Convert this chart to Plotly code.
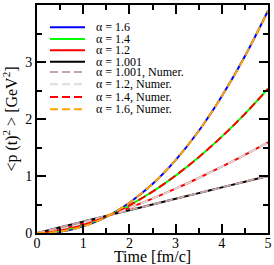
import plotly.graph_objects as go

# time grid [fm/c]
time = [0, 0.25, 0.5, 0.75, 1.0, 1.25, 1.5, 1.75, 2.0, 2.5, 3.0, 3.5, 4.0, 4.5, 5.0]

# <p(t)^2> [GeV^2]
p2_a1001 = [0, 0.05, 0.10, 0.15, 0.20, 0.25, 0.30, 0.35, 0.40, 0.50, 0.60, 0.70, 0.80, 0.90, 1.00]
p2_a12 = [0, 0.024, 0.063, 0.112, 0.167, 0.228, 0.295, 0.366, 0.441, 0.602, 0.777, 0.965, 1.163, 1.371, 1.59]
p2_a14 = [0, 0.011, 0.040, 0.083, 0.139, 0.208, 0.289, 0.382, 0.485, 0.725, 1.007, 1.329, 1.691, 2.09, 2.53]
p2_a16 = [0, 0.006, 0.025, 0.062, 0.116, 0.190, 0.284, 0.399, 0.53, 0.86, 1.28, 1.79, 2.40, 3.10, 3.90]

names = ["α = 1.6", "α = 1.4", "α = 1.2", "α = 1.001",
         "α = 1.001, Numer.", "α = 1.2, Numer.", "α = 1.4, Numer.", "α = 1.6, Numer."]
series = [p2_a16, p2_a14, p2_a12, p2_a1001, p2_a1001, p2_a12, p2_a14, p2_a16]
colors = ["#0000ff", "#00ff00", "#ff0000", "#000000",
          "#c4a4a4", "#dcdcdc", "#ff0000", "#ffa500"]
dashes = ["solid"] * 4 + ["8px,4px"] * 4

fig = go.Figure()
for n, s, c, d in zip(names, series, colors, dashes):
    fig.add_trace(go.Scatter(x=time, y=s, mode="lines", name=n,
                             line=dict(color=c, width=2, dash=d, shape="spline"),
                             showlegend=False))

# manual legend (compact, like the original)
L, T, W, H = 37.0, 5.0, 231.0, 228.0
rows = [27.3, 39.0, 50.3, 61.7, 72.0, 84.3, 97.0, 109.3]
for py, n, c, d in zip(rows, names, colors, dashes):
    yp = (T + H - py) / H
    fig.add_shape(type="line", xref="paper", yref="paper",
                  x0=(50 - L) / W, x1=(85 - L) / W, y0=yp, y1=yp,
                  line=dict(color=c, width=2, dash=d))
    fig.add_annotation(xref="paper", yref="paper", x=(95 - L) / W, y=yp,
                       text=n, showarrow=False, xanchor="left", yanchor="middle",
                       borderpad=0,
                       font=dict(family="Liberation Serif", size=12, color="black"))

axis_common = dict(showline=True, linewidth=2, linecolor="black", mirror="allticks",
                   ticks="inside", ticklen=9, tickwidth=1.5, tickcolor="black",
                   showgrid=False, zeroline=False,
                   tickfont=dict(family="Liberation Serif", size=14, color="black"))

fig.update_xaxes(range=[0, 5], dtick=1, tick0=0, ticklabelstandoff=-4,
                 minor=dict(dtick=0.5, ticks="inside", ticklen=5, tickwidth=1.5, tickcolor="black"),
                 title=dict(text="Time [fm/c]", standoff=12,
                            font=dict(family="Liberation Serif", size=16, color="black")),
                 **axis_common)
fig.update_yaxes(range=[0, 4], dtick=1, tick0=0,
                 minor=dict(dtick=0.5, ticks="inside", ticklen=5, tickwidth=1.5, tickcolor="black"),
                 title=dict(text="&lt;p (t)<sup>2</sup> &gt; [GeV<sup>2</sup>]", standoff=4,
                            font=dict(family="Liberation Serif", size=16, color="black")),
                 **axis_common)

fig.update_layout(width=274, height=265, margin=dict(l=37, r=6, t=5, b=32, autoexpand=False),
                  paper_bgcolor="white", plot_bgcolor="white")
fig.write_html("out.html", config={"displayModeBar": False},
               post_script="document.body.style.margin='0';document.body.style.overflow='hidden';")
